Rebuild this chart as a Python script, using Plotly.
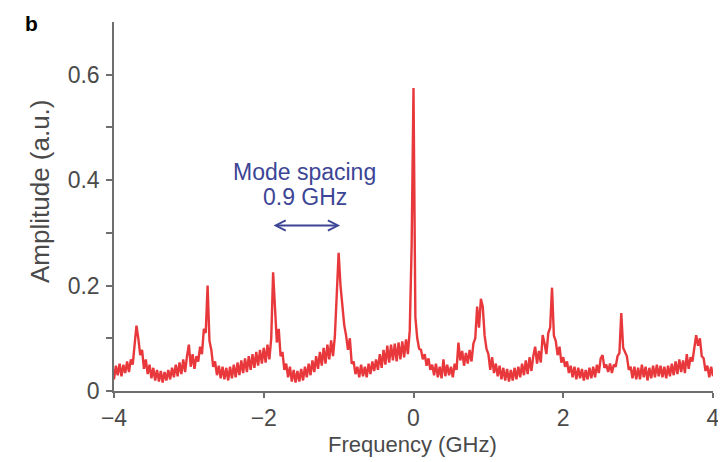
import numpy as np
import plotly.graph_objects as go

# Frequency grid (GHz), 0.025 GHz step from -4 to 4
freq_start = -4.0
freq_stop = 4.0
n_points = 321

# Amplitude (a.u.) (alternating samples follow the
# lower / upper edge of the noisy trace), one row per 0.25 GHz
amplitude = [
    0.022, 0.048, 0.030, 0.052, 0.028, 0.050, 0.034, 0.056, 0.036, 0.060,   # -4.00
    0.050, 0.088, 0.124, 0.100, 0.068, 0.078, 0.042, 0.060, 0.032, 0.050,   # -3.75
    0.024, 0.044, 0.020, 0.040, 0.018, 0.038, 0.016, 0.036, 0.020, 0.040,   # -3.50
    0.022, 0.044, 0.026, 0.050, 0.028, 0.054, 0.032, 0.060, 0.036, 0.066,   # -3.25
    0.088, 0.046, 0.070, 0.042, 0.066, 0.056, 0.084, 0.070, 0.118, 0.110,   # -3.00
    0.200, 0.095, 0.078, 0.046, 0.056, 0.030, 0.048, 0.024, 0.046, 0.022,   # -2.75
    0.044, 0.020, 0.046, 0.024, 0.050, 0.026, 0.054, 0.030, 0.058, 0.034,   # -2.50
    0.062, 0.036, 0.066, 0.040, 0.070, 0.044, 0.074, 0.048, 0.078, 0.052,   # -2.25
    0.082, 0.054, 0.088, 0.060, 0.100, 0.225, 0.160, 0.092, 0.118, 0.066,   # -2.00
    0.074, 0.040, 0.052, 0.026, 0.046, 0.018, 0.040, 0.016, 0.038, 0.018,   # -1.75
    0.042, 0.020, 0.046, 0.026, 0.052, 0.030, 0.058, 0.036, 0.066, 0.042,   # -1.50
    0.074, 0.048, 0.082, 0.052, 0.088, 0.060, 0.096, 0.066, 0.104, 0.180,   # -1.25
    0.262, 0.200, 0.165, 0.125, 0.105, 0.078, 0.100, 0.052, 0.056, 0.032,   # -1.00
    0.046, 0.026, 0.050, 0.028, 0.046, 0.026, 0.052, 0.032, 0.056, 0.038,   # -0.75
    0.060, 0.040, 0.070, 0.044, 0.078, 0.050, 0.086, 0.054, 0.088, 0.058,   # -0.50
    0.090, 0.056, 0.092, 0.060, 0.094, 0.064, 0.098, 0.070, 0.115, 0.275,   # -0.25
    0.575, 0.140, 0.100, 0.080, 0.078, 0.060, 0.070, 0.048, 0.062, 0.040,   # 0.00
    0.050, 0.030, 0.052, 0.026, 0.046, 0.024, 0.060, 0.028, 0.050, 0.030,   # 0.25
    0.046, 0.026, 0.052, 0.040, 0.092, 0.058, 0.076, 0.048, 0.072, 0.052,   # 0.50
    0.078, 0.056, 0.090, 0.100, 0.160, 0.120, 0.175, 0.160, 0.105, 0.080,   # 0.75
    0.070, 0.040, 0.064, 0.034, 0.052, 0.028, 0.048, 0.022, 0.044, 0.020,   # 1.00
    0.042, 0.018, 0.040, 0.020, 0.044, 0.022, 0.046, 0.026, 0.052, 0.030,   # 1.25
    0.058, 0.032, 0.064, 0.038, 0.066, 0.084, 0.052, 0.076, 0.054, 0.106,   # 1.50
    0.090, 0.070, 0.110, 0.120, 0.196, 0.105, 0.095, 0.068, 0.084, 0.054,   # 1.75
    0.064, 0.046, 0.056, 0.034, 0.048, 0.026, 0.046, 0.022, 0.044, 0.024,   # 2.00
    0.042, 0.020, 0.040, 0.022, 0.044, 0.024, 0.046, 0.026, 0.050, 0.034,   # 2.25
    0.062, 0.068, 0.044, 0.050, 0.036, 0.052, 0.034, 0.050, 0.046, 0.066,   # 2.50
    0.072, 0.148, 0.082, 0.074, 0.066, 0.040, 0.046, 0.024, 0.046, 0.022,   # 2.75
    0.044, 0.022, 0.050, 0.026, 0.046, 0.020, 0.044, 0.024, 0.048, 0.026,   # 3.00
    0.050, 0.028, 0.048, 0.026, 0.046, 0.024, 0.048, 0.028, 0.052, 0.030,   # 3.25
    0.056, 0.032, 0.060, 0.036, 0.058, 0.034, 0.070, 0.042, 0.064, 0.056,   # 3.50
    0.078, 0.106, 0.086, 0.100, 0.066, 0.062, 0.038, 0.048, 0.026, 0.046,   # 3.75
    0.028,                                                                  # 4.00
]

frequency = np.linspace(freq_start, freq_stop, n_points)

x_tick_vals = [-4, -2, 0, 2, 4]
x_tick_text = ["\u22124", "\u22122", "0", "2", "4"]
y_tick_vals = [0, 0.2, 0.4, 0.6]
y_tick_text = ["0", "0.2", "0.4", "0.6"]
y_minor_vals = [0.1, 0.3, 0.5]

x_title = "Frequency (GHz)"
y_title = "Amplitude (a.u.)"
annot_line1 = "Mode spacing"
annot_line2 = "0.9 GHz"
arrow_from = -1.89
arrow_to = -0.98
arrow_level = 0.314

FONT = "Liberation Sans, Arial, Helvetica, sans-serif"
AXIS_COLOR = "#6e6e6e"
TEXT_COLOR = "#4a4a4a"
BLUE = "#3c4596"
FS = 23

fig = go.Figure()
fig.add_trace(go.Scatter(
    x=frequency, y=amplitude, mode="lines",
    line=dict(color="#e8383b", width=2.4),
    showlegend=False, hoverinfo="skip",
))

fig.update_layout(
    width=726, height=462,
    margin=dict(l=106, r=21, t=14, b=79, autoexpand=False),
    paper_bgcolor="white", plot_bgcolor="white",
    font=dict(family=FONT, color=TEXT_COLOR, size=FS),
    xaxis=dict(
        range=[-4, 4], tickmode="array", tickvals=x_tick_vals, ticktext=x_tick_text,
        showgrid=False, zeroline=False, showline=True, linecolor=AXIS_COLOR, linewidth=1.5,
        ticks="outside", ticklen=5, tickwidth=1.5, tickcolor=AXIS_COLOR,
        tickfont=dict(size=FS, color=TEXT_COLOR), automargin=False, ticklabelstandoff=1,
    ),
    yaxis=dict(
        range=[0, 0.7], tickmode="array", tickvals=y_tick_vals, ticktext=y_tick_text,
        showgrid=False, zeroline=False, showline=True, linecolor=AXIS_COLOR, linewidth=1.5,
        ticks="outside", ticklen=6, tickwidth=1.5, tickcolor=AXIS_COLOR,
        tickfont=dict(size=FS, color=TEXT_COLOR), automargin=False, ticklabelstandoff=2,
        minor=dict(tickvals=y_minor_vals, ticks="outside", ticklen=6, tickwidth=1.5, tickcolor=AXIS_COLOR),
    ),
)

# axis titles
fig.add_annotation(
    x=0.499, y=-0.145, xref="paper", yref="paper", text=x_title, showarrow=False,
    font=dict(size=22, color=TEXT_COLOR, family=FONT), xanchor="center", yanchor="middle",
    borderpad=0,
)
fig.add_annotation(
    x=-0.1235, y=0.542, xref="paper", yref="paper", text=y_title, showarrow=False,
    textangle=-90, font=dict(size=26, color=TEXT_COLOR, family=FONT),
    xanchor="center", yanchor="middle",
)

fig.add_annotation(
    x=-1.45, y=0.415, xref="x", yref="y", text=annot_line1, showarrow=False,
    font=dict(size=FS, color=BLUE, family=FONT), yanchor="middle",
)
fig.add_annotation(
    x=-1.45, y=0.368, xref="x", yref="y", text=annot_line2, showarrow=False,
    font=dict(size=FS, color=BLUE, family=FONT), yanchor="middle",
)
fig.add_annotation(
    x=arrow_to, y=arrow_level, ax=arrow_from, ay=arrow_level,
    xref="x", yref="y", axref="x", ayref="y", text="",
    showarrow=True, arrowhead=5, startarrowhead=5, arrowside="end+start",
    arrowsize=0.9, startarrowsize=0.9, arrowwidth=2.2, arrowcolor=BLUE,
)
fig.add_annotation(
    x=-0.150, y=0.997, xref="paper", yref="paper", text="<b>b</b>", showarrow=False,
    font=dict(size=21, color="black", family=FONT), xanchor="left", yanchor="middle",
    borderpad=0,
)

fig.write_html("out.html")
